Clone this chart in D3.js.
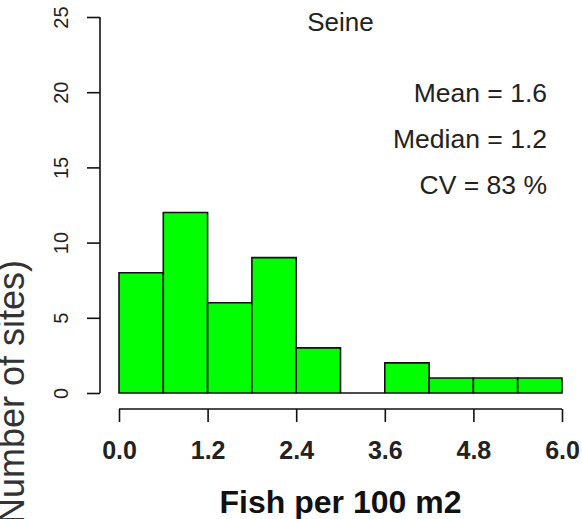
<!DOCTYPE html>
<html>
<head>
<meta charset="utf-8">
<script src="https://cdn.jsdelivr.net/npm/d3@7/dist/d3.min.js"></script>
<style>
  html, body { margin: 0; padding: 0; background: #fff; }
  svg { display: block; }
</style>
</head>
<body>
<script>
// Histogram of fish density at Seine sites
const binEdges = [0.0, 0.6, 1.2, 1.8, 2.4, 3.0, 3.6, 4.2, 4.8, 5.4, 6.0];
const counts   = [8, 12, 6, 9, 3, 0, 2, 1, 1, 1];
const xTicks   = [0.0, 1.2, 2.4, 3.6, 4.8, 6.0];
const yTicks   = [0, 5, 10, 15, 20, 25];
const statLines = ["Mean = 1.6", "Median = 1.2", "CV = 83 %"];
const titleText = "Seine";
const xTitle = "Fish per 100 m2";
const yTitle = "(Number of sites)";

const W = 582, H = 519;
const svg = d3.select("body").append("svg").attr("width", W).attr("height", H);

const x = d3.scaleLinear().domain([0, 6]).range([119, 562]);
const y = d3.scaleLinear().domain([0, 25]).range([393, 17]);

const bins = counts.map((c, i) => ({ x0: binEdges[i], x1: binEdges[i + 1], n: c }));

// bars as closed outlines, so an empty bin still shows its base edge
svg.append("g").selectAll("path").data(bins).join("path")
  .attr("d", d => `M${x(d.x0)},${y(0)}V${y(d.n)}H${x(d.x1)}V${y(0)}Z`)
  .attr("fill", "#00ff00")
  .attr("stroke", "#111")
  .attr("stroke-width", 1.6);

// y axis (left, rotated labels)
const yAxis = svg.append("g").attr("transform", "translate(100,0)")
  .call(d3.axisLeft(y).tickValues(yTicks).tickSize(13).tickFormat(d3.format("d")));
yAxis.select(".domain").attr("d", `M0,${y(0)}V${y(25)}`).attr("stroke", "#111").attr("stroke-width", 1.6);
yAxis.selectAll(".tick line").attr("stroke", "#111").attr("stroke-width", 1.6);
yAxis.selectAll(".tick text")
  .attr("x", null).attr("dy", null)
  .attr("transform", "translate(-32,0) rotate(-90)")
  .attr("text-anchor", "middle")
  .attr("font-family", "Liberation Sans, Arial, sans-serif")
  .attr("font-size", 20)
  .attr("fill", "#222");

// x axis
const xAxis = svg.append("g").attr("transform", "translate(0,409)")
  .call(d3.axisBottom(x).tickValues(xTicks).tickSize(13).tickFormat(d3.format(".1f")));
xAxis.select(".domain").attr("d", `M${x(0)},0H${x(6)}`).attr("stroke", "#111").attr("stroke-width", 1.6);
xAxis.selectAll(".tick line").attr("stroke", "#111").attr("stroke-width", 1.6);
xAxis.selectAll(".tick text")
  .attr("y", 50).attr("dy", null)
  .attr("font-family", "Liberation Sans, Arial, sans-serif")
  .attr("font-weight", "bold")
  .attr("font-size", 25)
  .attr("fill", "#222");

// title
svg.append("text")
  .attr("x", (x(0) + x(6)) / 2).attr("y", 31)
  .attr("text-anchor", "middle")
  .attr("font-family", "Liberation Sans, Arial, sans-serif")
  .attr("font-size", 26)
  .attr("fill", "#222")
  .text(titleText);

// summary statistics
svg.append("g").selectAll("text").data(statLines).join("text")
  .attr("x", 547)
  .attr("y", (d, i) => 102 + i * 46)
  .attr("text-anchor", "end")
  .attr("font-family", "Liberation Sans, Arial, sans-serif")
  .attr("font-size", 26.5)
  .attr("fill", "#222")
  .text(d => d);

// axis titles
svg.append("text")
  .attr("x", (x(0) + x(6)) / 2).attr("y", 513)
  .attr("text-anchor", "middle")
  .attr("font-family", "Liberation Sans, Arial, sans-serif")
  .attr("font-weight", "bold")
  .attr("font-size", 32)
  .attr("fill", "#111")
  .text(xTitle);

svg.append("text")
  .attr("transform", "translate(24,260) rotate(-90)")
  .attr("text-anchor", "end")
  .attr("font-family", "Liberation Sans, Arial, sans-serif")
  .attr("font-size", 36)
  .attr("fill", "#333")
  .text(yTitle);
</script>
</body>
</html>
